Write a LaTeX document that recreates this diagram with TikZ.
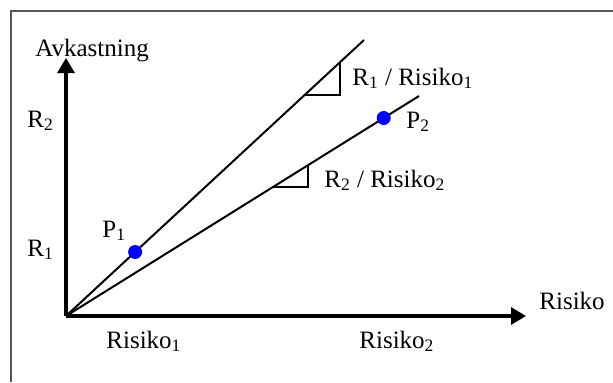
\documentclass[tikz,border=0pt]{standalone}
\usepackage{fontspec}
\setmainfont{Liberation Serif}
\usetikzlibrary{arrows.meta,calc}
\definecolor{framegray}{HTML}{555555}
\definecolor{dotblue}{HTML}{0000FF}

\begin{document}
\begin{tikzpicture}[x=0.5pt,y=-0.5pt,font=\fontsize{12.5}{14}\selectfont,
       axis/.style={line width=1.6pt,-{Triangle[length=7.5pt,width=8.5pt]}},
       ray/.style={line width=1pt},
       slope/.style={line width=0.8pt},
       dot/.style={circle,fill=dotblue,inner sep=0pt,minimum size=7pt},
       lbl/.style={anchor=base west,inner sep=0pt}]
      \useasboundingbox (0,0) rectangle (613,382);
      % frame
      \draw[framegray,line width=1pt] (11,382) -- (11,11) -- (613,11);
      % axes
      \coordinate (O) at (66,316);
      \coordinate (Ytip) at (66,58);
      \coordinate (Xtip) at (526,316);
      \draw[axis] (O) -- (Ytip);
      \draw[axis] (O) -- (Xtip);
      % the two lines
      \coordinate (L1) at (364,40);
      \coordinate (L2) at (419,96);
      \draw[ray] (O) -- (L1);
      \draw[ray] (O) -- (L2);
      % slope triangles
      \draw[slope] ($(O)!0.8!(L1)$) -| ($(O)!0.92!(L1)$);
      \draw[slope] ($(O)!0.586!(L2)$) -| ($(O)!0.686!(L2)$);
      % points
      \node[dot] (P1) at ($(O)!0.232!(L1)$) {};
      \node[dot] (P2) at ($(O)!0.9!(L2)$) {};
      % labels
      \node[lbl] (avk) at (35,56) {Avkastning};
      \node[lbl] (r2) at (27,127) {R\textsubscript{2}};
      \node[lbl] (r1) at (27,256) {R\textsubscript{1}};
      \node[lbl] (p1) at (102,237) {P\textsubscript{1}};
      \node[lbl] (p2) at (406,128) {P\textsubscript{2}};
      \node[lbl] (s1) at (352,85) {R\textsubscript{1} / Risiko\textsubscript{1}};
      \node[lbl] (s2) at (324,187) {R\textsubscript{2} / Risiko\textsubscript{2}};
      \node[lbl] (risk) at (539,309) {Risiko};
      \node[lbl] (risk1) at (106,348) {Risiko\textsubscript{1}};
      \node[lbl] (risk2) at (359,348) {Risiko\textsubscript{2}};
    \end{tikzpicture}
\end{document}
